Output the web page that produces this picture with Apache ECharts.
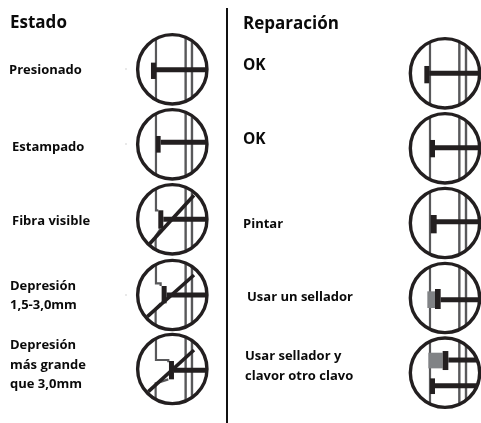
<!DOCTYPE html>
<html><head><meta charset="utf-8">
<style>html,body{margin:0;padding:0;background:#fff}#c{width:481px;height:423px}</style>
<script src="https://cdn.jsdelivr.net/npm/echarts@6/dist/echarts.min.js"></script>
</head><body><div id="c"></div>
<script>
// Text content
const headings = [["Estado", 10, 23.5], ["Reparación", 243, 24.5]];
const estadoLabels = [
  ["Presionado", 9, 70], ["Estampado", 12, 147], ["Fibra visible", 12, 221],
  ["Depresión\n1,5-3,0mm", 10, 296], ["Depresión\nmás grande\nque 3,0mm", 10, 365]
];
const okLabels = [["OK", 243, 66], ["OK", 243, 140]];
const reparacionLabels = [
  ["Pintar", 243, 224],
  ["Usar un sellador", 247, 297], ["Usar sellador y\nclavor otro clavo", 245, 366]
];
// Icon centres: x, y, drawing key
const estadoIcons = [[172.3,69.3,"A"],[172.3,144.3,"B"],[172.3,219.3,"C"],[172.3,295,"D"],[172.3,369,"E"]];
const reparacionIcons = [[445,73.3,"F"],[445,148.3,"G"],[445,223,"H"],[445,298,"I"],[445,372.7,"J"]];
const faintDots = [[126,69],[126,144],[126,295]];
const divider = [[227,8],[227,423]];

const R = 104; // all drawing units below are 1/3 px relative to the icon centre
const DRAW = {
  A:{v:[40,59],wall:[[[-49,-92],[-49,92]]],heads:[[-64,-20,15,49]],shanks:[[-49,1]]},
  B:{v:[40,59],wall:[[[-49,-92],[-49,92]]],heads:[[-49,-25,14,50]],shanks:[[-35,-6]]},
  C:{v:[40,59],wall:[[[-49,-92],[-49,-27],[-42,-27]],[[-35,28],[-50,50],[-50,91]]],heads:[[-42,-27,15,55]],shanks:[[-27,0]],diag:[[-72,78],[65,-72]]},
  D:{v:[40,59],wall:[[[-49,-92],[-49,-35],[-35,-35],[-35,-27]],[[-35,25],[-50,40],[-50,91]]],heads:[[-32,-27,15,52]],shanks:[[-17,0]],diag:[[-75,65],[65,-60]]},
  E:{v:[40,59],wall:[[[-49,-92],[-49,-27],[-12,-27],[-12,-20]],[[-12,31],[-50,43],[-50,91]]],heads:[[-10,-24,15,55]],shanks:[[5,4]],diag:[[-72,68],[65,-57]]},
  F:{v:[43,63],wall:[[[-45,-94],[-45,94]]],heads:[[-62,-22,15,52]],shanks:[[-47,0]]},
  G:{v:[43,63],wall:[[[-45,-94],[-45,94]]],heads:[[-45,-25,15,52]],shanks:[[-30,-2]]},
  H:{v:[43,63],wall:[[[-45,-94],[-45,94]]],heads:[[-43,-24,18,55]],shanks:[[-27,-4]]},
  I:{v:[43,63],wall:[[[-45,-94],[-45,94]]],gray:[[-53,-20,23,50]],heads:[[-30,-27,17,60]],shanks:[[-13,5]]},
  J:{v:[43,63],wall:[[[-45,-94],[-45,94]]],gray:[[-50,-60,43,47]],heads:[[-7,-65,17,57],[-45,17,15,47]],shanks:[[10,-38],[-30,39]]}
};
const DARK = "#231f20", WALL = "#58585a", SEAL = "#808285";

function renderIcon(params, api) {
  const cx = api.value(0), cy = api.value(1), d = DRAW[iconKeys[params.dataIndex]];
  const P = (x, y) => api.coord([cx + x / 3, cy + y / 3]);
  const out = [];
  const line = (pts, w, col) => out.push({type:"polyline",shape:{points:pts.map(p=>P(p[0],p[1]))},
    style:{stroke:col,lineWidth:w,fill:null,lineJoin:"miter"}});
  const rect = (r, col) => { const a=P(r[0],r[1]), b=P(r[0]+r[2],r[1]+r[3]);
    out.push({type:"rect",shape:{x:a[0],y:a[1],width:b[0]-a[0],height:b[1]-a[1]},style:{fill:col}}); };
  d.v.forEach(x => { const h=Math.sqrt(R*R-x*x); line([[x,-h],[x,h]],2.4,WALL); });
  d.wall.forEach(w => line(w,2.2,WALL));
  (d.gray||[]).forEach(r => rect(r,SEAL));
  d.heads.forEach(r => rect(r,DARK));
  d.shanks.forEach(s => line([[s[0],s[1]],[Math.sqrt(R*R-s[1]*s[1]),s[1]]],5,DARK));
  if (d.diag) line(d.diag,3.6,DARK);
  const c = P(0,0);
  out.push({type:"circle",shape:{cx:c[0],cy:c[1],r:R/3},style:{stroke:DARK,lineWidth:3.4,fill:null}});
  return {type:"group",children:out};
}
const iconData = estadoIcons.concat(reparacionIcons);
const iconKeys = iconData.map(d => d[2]);

function textSeries(items, size, lh) {
  return {type:"custom",coordinateSystem:"cartesian2d",clip:false,silent:true,
    data:items.map(t=>[t[1],t[2],t[0]]),
    encode:{x:0,y:1},
    renderItem:(p,api)=>{ const c=api.coord([api.value(0),api.value(1)]);
      return {type:"text",x:c[0],y:c[1],style:{text:items[p.dataIndex][0],fontFamily:"'Open Sans','Noto Sans',sans-serif",
        fontWeight:"bold",fontSize:size,lineHeight:lh,fill:"#0a0a0a",align:"left",verticalAlign:"middle"}}; }};
}

const chart = echarts.init(document.getElementById("c"), null, {renderer:"canvas"});
chart.setOption({
  animation:false,
  backgroundColor:"#fff",
  grid:{left:0,right:0,top:0,bottom:0},
  xAxis:{type:"value",min:0,max:481,show:false},
  yAxis:{type:"value",min:0,max:423,inverse:true,show:false},
  series:[
    {type:"line",data:divider,symbol:"none",silent:true,lineStyle:{color:"#111",width:2}},
    {type:"scatter",data:faintDots,symbol:"rect",symbolSize:2,silent:true,itemStyle:{color:"#e3e3e3"}},
    {type:"custom",coordinateSystem:"cartesian2d",clip:false,silent:true,
      data:iconData.map(d=>[d[0],d[1]]),encode:{x:0,y:1},renderItem:renderIcon},
    textSeries(headings,17,22),
    textSeries(estadoLabels,13,19.5),
    textSeries(okLabels,15.5,20),
    textSeries(reparacionLabels,13,20)
  ]
});
</script></body></html>
